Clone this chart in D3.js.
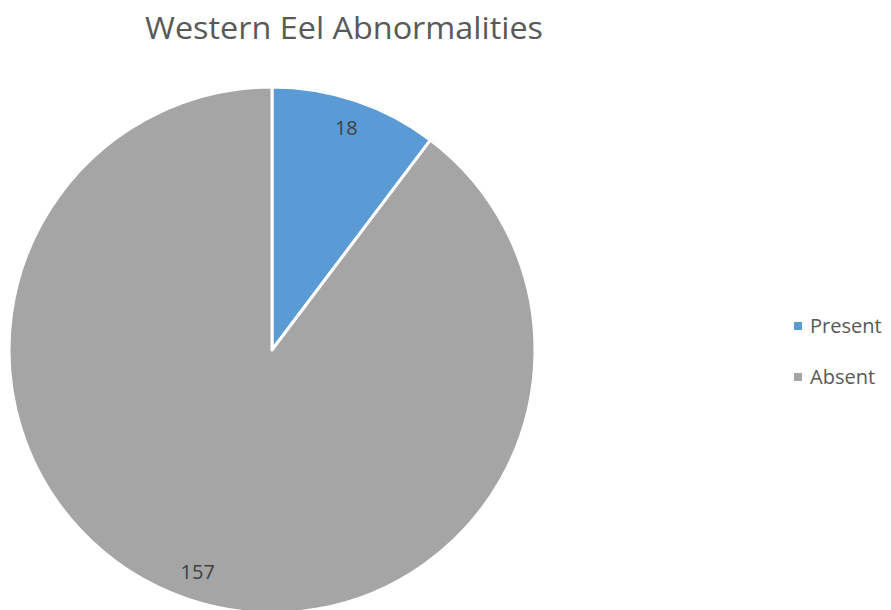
<!DOCTYPE html>
<html>
<head>
<meta charset="utf-8">
<script src="https://cdn.jsdelivr.net/npm/d3@7"></script>
<style>
  body { margin: 0; background: #fff; }
  text { font-family: "Open Sans", "Liberation Sans", sans-serif; }
</style>
</head>
<body>
<div id="chart"></div>
<script>
!(function (d3) {

  var categories = ["Present", "Absent"];
  var values = [18, 157];
  var colors = ["#5B9BD5", "#A5A5A5"];

  var width = 891, height = 610;
  var cx = 272, cy = 350, radius = 263;

  var svg = d3.select("#chart").append("svg")
      .attr("width", width)
      .attr("height", height);

  // title
  svg.append("text")
      .attr("x", 344)
      .attr("y", 39)
      .attr("text-anchor", "middle")
      .attr("fill", "#595959")
      .style("font-size", "31px")
      .attr("textLength", 398)
      .attr("lengthAdjust", "spacingAndGlyphs")
      .text("Western Eel Abnormalities");

  var data = categories.map(function(c, i) { return {name: c, value: values[i]}; });

  var color = d3.scaleOrdinal().domain(categories).range(colors);

  var pie = d3.pie().sort(null).value(function(d) { return d.value; });
  var arc = d3.arc().innerRadius(0).outerRadius(radius);
  var labelArc = d3.arc().innerRadius(radius * 0.89).outerRadius(radius * 0.89);

  var g = svg.append("g")
      .attr("transform", "translate(" + cx + "," + cy + ")");

  g.selectAll(".slice")
      .data(pie(data))
    .enter().append("path")
      .attr("class", "slice")
      .attr("d", arc)
      .attr("fill", function(d) { return color(d.data.name); })
      .attr("stroke", "#fff")
      .attr("stroke-width", 3)
      .attr("stroke-linejoin", "round");

  g.selectAll(".lbl")
      .data(pie(data))
    .enter().append("text")
      .attr("class", "lbl")
      .attr("transform", function(d) { return "translate(" + labelArc.centroid(d) + ")"; })
      .attr("text-anchor", "middle")
      .attr("dy", "0.35em")
      .attr("fill", "#404040")
      .style("font-size", "20px")
      .text(function(d) { return d.data.value; });

  // legend
  var legend = svg.selectAll(".legend")
      .data(categories)
    .enter().append("g")
      .attr("class", "legend")
      .attr("transform", function(d, i) { return "translate(794," + (326 + i * 51) + ")"; });

  legend.append("rect")
      .attr("x", 0)
      .attr("y", -4)
      .attr("width", 8)
      .attr("height", 8)
      .attr("fill", function(d) { return color(d); });

  legend.append("text")
      .attr("x", 16)
      .attr("y", 0)
      .attr("dy", "0.35em")
      .attr("fill", "#595959")
      .style("font-size", "20px")
      .text(function(d) { return d; });

})(d3);
</script>
</body>
</html>
